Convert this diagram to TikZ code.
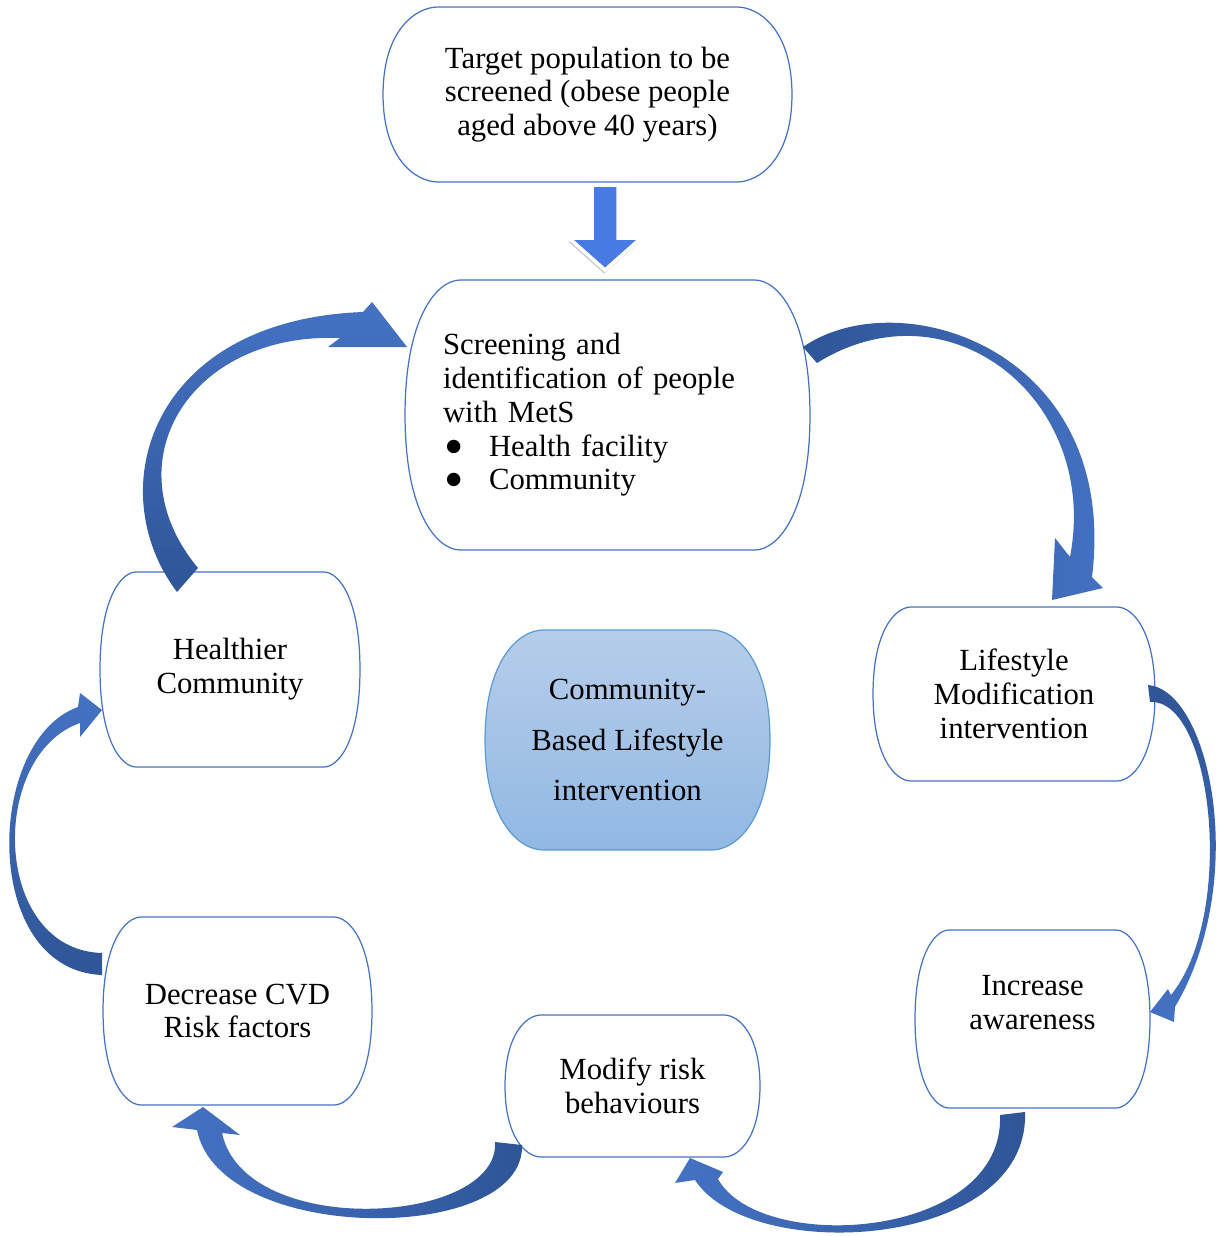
\documentclass[tikz,border=0pt]{standalone}
\usepackage{fontspec}
\setmainfont{Liberation Serif}
\newfontfamily\symfont{DejaVu Sans}
\usetikzlibrary{calc, backgrounds, shadows}

\definecolor{edgeblue}{RGB}{68,114,196}
\definecolor{arrowdark}{RGB}{47,85,151}
\definecolor{arrowlight}{RGB}{68,114,196}
\definecolor{downblue}{RGB}{72,122,228}
\definecolor{hubtop}{RGB}{182,205,234}
\definecolor{hubbottom}{RGB}{146,184,227}
\definecolor{hubedge}{RGB}{91,155,213}

\newcommand{\bubbleshape}[3][]{%
  \path[#1] ($(#2.north west)+(#3,0)$) -- ($(#2.north east)+(-#3,0)$)
    .. controls ($(#2.north east)+(-0.6*#3,0)$) and ($(#2.east)!0.74!(#2.north east)$) .. (#2.east)
    .. controls ($(#2.east)!0.74!(#2.south east)$) and ($(#2.south east)+(-0.6*#3,0)$) .. ($(#2.south east)+(-#3,0)$)
    -- ($(#2.south west)+(#3,0)$)
    .. controls ($(#2.south west)+(0.6*#3,0)$) and ($(#2.west)!0.74!(#2.south west)$) .. (#2.west)
    .. controls ($(#2.west)!0.74!(#2.north west)$) and ($(#2.north west)+(0.6*#3,0)$) .. cycle;}
\newcommand{\bulletitem}[1]{\makebox[0.92cm][l]{\hspace{0.06cm}\raisebox{2.8pt}{\symfont\fontsize{10pt}{10pt}\selectfont ●}}#1}

\begin{document}
\begin{tikzpicture}[x=0.02cm, y=-0.02cm, font=\fontsize{17.5pt}{19.2pt}\selectfont, align=center,
  box/.style={inner sep=0pt, outer sep=0pt},
  boxline/.style={draw=edgeblue, line width=0.7pt, fill=white},
  hubline/.style={draw=hubedge, line width=0.7pt, top color=hubtop, bottom color=hubbottom},
  blockarrow/.style={fill=downblue, draw=white, line width=2pt,
    drop shadow={shadow xshift=-0.5pt, shadow yshift=-2pt, opacity=0.4}}]
  \useasboundingbox (0,0) rectangle (1225,1237);

  \node[box, minimum width=8.18cm, minimum height=3.5cm] (target) at (587.5,94.5)
    {Target population to be\\screened (obese people\\aged above 40 years)};
  \node[box, inner xsep=0.76cm, text width=6.58cm, minimum height=5.4cm, align=left] (screen) at (607.5,415)
    {Screening and\\identification of people\\with MetS\\\bulletitem{Health facility}\\\bulletitem{Community}};
  \node[box, minimum width=5.2cm, minimum height=3.9cm] (heal) at (230,669.5) {Healthier\\Community};
  \node[box, minimum width=5.7cm, minimum height=4.4cm, font=\fontsize{17.5pt}{28.5pt}\selectfont] (hub) at (627.5,740)
    {Community-\\Based Lifestyle\\intervention};
  \node[box, minimum width=5.64cm, minimum height=3.48cm] (life) at (1014,694) {Lifestyle\\Modification\\intervention};
  \node[box, minimum width=4.7cm, minimum height=3.56cm] (incr) at (1032.5,1019) {Increase\\awareness\\\mbox{}};
  \node[box, minimum width=5.1cm, minimum height=2.84cm] (modi) at (632.5,1086) {Modify risk\\behaviours};
  \node[box, minimum width=5.38cm, minimum height=3.76cm] (decr) at (237.5,1011) {Decrease CVD\\Risk factors};

  \begin{scope}[on background layer]
    \fill[white] (0,0) rectangle (1225,1237);
    \bubbleshape[boxline]{target}{55}
    \bubbleshape[boxline]{screen}{55}
    \bubbleshape[boxline]{heal}{36}
    \bubbleshape[hubline]{hub}{58}
    \bubbleshape[boxline]{life}{38}
    \bubbleshape[boxline]{incr}{34}
    \bubbleshape[boxline]{modi}{36}
    \bubbleshape[boxline]{decr}{38}
  \end{scope}

  \path[blockarrow] ($(screen.north)+(-15.5,-95)$) -- ++(26,0) -- ++(0,53) -- ++(23,0)
    -- ($(screen.north)+(-2.5,-10)$) -- ($(screen.north)+(-38.5,-42)$) -- ++(23,0) -- cycle;

  \path[top color=arrowlight, bottom color=arrowdark]
    ($(heal.north)+(-53,20)$) .. controls ($(heal.north)+(-130,-82)$) and ($(screen.west)+(-255,-95)$) .. ($(screen.west)+(-42,-103)$)
    -- ($(screen.west)+(-33,-113)$) -- ($(screen.west)+(2,-68)$) -- ($(screen.west)+(-77,-68)$) -- ($(screen.west)+(-65,-77)$)
    .. controls ($(screen.west)+(-215,-83)$) and ($(heal.north)+(-120,-110)$) .. ($(heal.north)+(-32,-4)$) -- cycle;
  \path[left color=arrowdark, right color=arrowlight]
    ($(screen.east)+(-7,-68)$) .. controls ($(screen.east)+(90,-135)$) and ($(life.north)+(106,-257)$) .. ($(life.north)+(78,-30)$)
    -- ($(life.north)+(89,-19)$) -- ($(life.north)+(38,-7)$) -- ($(life.north)+(41,-69)$) -- ($(life.north)+(56,-50)$)
    .. controls ($(life.north)+(86,-207)$) and ($(screen.east)+(140,-135)$) .. ($(screen.east)+(7,-52)$) -- cycle;
  \path[top color=arrowdark, bottom color=arrowlight]
    ($(life.east)+(-7,-9)$) .. controls ($(life.east)+(55,-4)$) and ($(incr.east)+(100,-139)$) .. ($(incr.east)+(25,-12)$)
    -- ($(incr.east)+(24,3)$) -- ($(incr.east)+(0,-7)$) -- ($(incr.east)+(18,-30)$) -- ($(incr.east)+(21,-24)$)
    .. controls ($(incr.east)+(86,-104)$) and ($(life.east)+(58,4)$) .. ($(life.east)+(-5,8)$) -- cycle;
  \path[left color=arrowlight, right color=arrowdark]
    ($(incr.south)+(-7.5,4)$) .. controls ($(incr.south)+(-2.5,142)$) and ($(modi.south)+(117.5,108)$) .. ($(modi.south)+(62.5,23)$)
    -- ($(modi.south)+(42.5,26)$) -- ($(modi.south)+(57.5,1)$) -- ($(modi.south)+(90.5,15)$) -- ($(modi.south)+(85.5,22)$)
    .. controls ($(modi.south)+(127.5,98)$) and ($(incr.south)+(-27.5,132)$) .. ($(incr.south)+(-32.5,7)$) -- cycle;
  \path[left color=arrowlight, right color=arrowdark]
    ($(modi.west)+(17,59)$) .. controls ($(modi.west)+(20,159)$) and ($(decr.south)+(-17.5,140)$) .. ($(decr.south)+(-40.5,25)$)
    -- ($(decr.south)+(-65.5,22)$) -- ($(decr.south)+(-34.5,2)$) -- ($(decr.south)+(2.5,30)$) -- ($(decr.south)+(-15.5,28)$)
    .. controls ($(decr.south)+(7.5,135)$) and ($(modi.west)+(-5,139)$) .. ($(modi.west)+(-10,56)$) -- cycle;
  \path[top color=arrowlight, bottom color=arrowdark]
    ($(decr.west)+(-1,-36)$) .. controls ($(decr.west)+(-123,-41)$) and ($(heal.west)+(-115,70.5)$) .. ($(heal.west)+(-22,37.5)$)
    -- ($(heal.west)+(-20,23.5)$) -- ($(heal.west)+(2,40.5)$) -- ($(heal.west)+(-20,67.5)$) -- ($(heal.west)+(-20,53.5)$)
    .. controls ($(heal.west)+(-112,85.5)$) and ($(decr.west)+(-111,-61)$) .. ($(decr.west)+(-1,-58)$) -- cycle;
\end{tikzpicture}
\end{document}
